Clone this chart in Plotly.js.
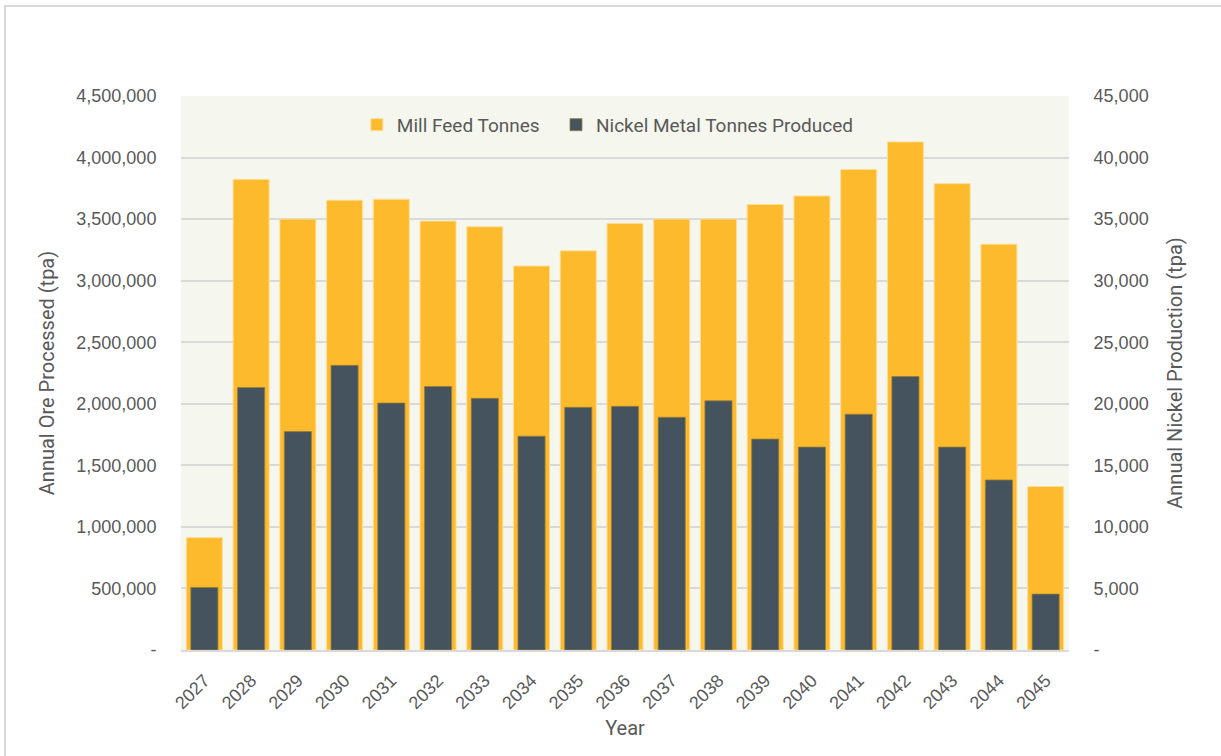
<!DOCTYPE html>
<html>
<head>
<meta charset="utf-8">
<script src="https://cdn.plot.ly/plotly-3.0.1.min.js"></script>
<style>
    html, body { margin: 0; padding: 0; background: #fff; overflow: hidden; }
    #chart { width: 1221px; height: 756px; }
    #frame {
        position: absolute; left: 4px; top: 5px; width: 1400px; height: 900px;
        border-left: 2px solid #d9d9d9; border-top: 2px solid #d9d9d9;
        pointer-events: none;
    }
</style>
</head>
<body>
<div id="chart"></div>
<div id="frame"></div>
<script>
// Data
var years = ['2027', '2028', '2029', '2030', '2031', '2032', '2033', '2034', '2035', '2036',
    '2037', '2038', '2039', '2040', '2041', '2042', '2043', '2044', '2045'];

var millFeed = [913000, 3823000, 3500000, 3653000, 3661000, 3484000, 3438000, 3119000, 3242000, 3465000,
    3500000, 3500000, 3619000, 3688000, 3903000, 4127000, 3788000, 3296000, 1328000];

var nickelMetal = [5080, 21320, 17740, 23120, 20060, 21400, 20440, 17370, 19710, 19790,
    18900, 20240, 17130, 16480, 19150, 22210, 16480, 13810, 4540];

var leftTicks = [0, 500000, 1000000, 1500000, 2000000, 2500000, 3000000, 3500000, 4000000, 4500000];
var leftTickText = ['-', '500,000', '1,000,000', '1,500,000', '2,000,000', '2,500,000',
    '3,000,000', '3,500,000', '4,000,000', '4,500,000'];
var rightTicks = [0, 5000, 10000, 15000, 20000, 25000, 30000, 35000, 40000, 45000];
var rightTickText = ['-', '5,000', '10,000', '15,000', '20,000', '25,000',
    '30,000', '35,000', '40,000', '45,000'];

var textGrey = '#595959';
var tickFont = {family: 'Liberation Sans, Arial, sans-serif', size: 18, color: textGrey};
var titleFont = {family: 'Roboto, sans-serif', size: 20, color: textGrey};
var legendFont = {family: 'Roboto, sans-serif', size: 19, color: textGrey};

var data = [
    {
        x: years, y: millFeed, type: 'bar', name: 'Mill Feed Tonnes',
        yaxis: 'y', width: 0.77, offset: -0.385, legend: 'legend',
        marker: {color: '#FDBA2C', line: {color: 'rgba(255,222,150,0.9)', width: 1}},
        hoverinfo: 'x+y'
    },
    {
        x: years, y: nickelMetal, type: 'bar', name: 'Nickel Metal Tonnes Produced',
        yaxis: 'y2', width: 0.58, offset: -0.29, legend: 'legend2',
        marker: {color: '#44535E', line: {color: 'rgba(150,125,60,0.8)', width: 1}},
        hoverinfo: 'x+y'
    }
];

var layout = {
    width: 1221,
    height: 756,
    margin: {l: 181, r: 152, t: 96, b: 106},
    paper_bgcolor: '#ffffff',
    plot_bgcolor: '#F5F6EE',
    barmode: 'overlay',
    showlegend: true,
    legend: {
        orientation: 'h',
        x: 0.198, xanchor: 'left',
        y: 0.948, yanchor: 'middle',
        bgcolor: 'rgba(0,0,0,0)',
        font: legendFont
    },
    legend2: {
        orientation: 'h',
        x: 0.4223, xanchor: 'left',
        y: 0.948, yanchor: 'middle',
        bgcolor: 'rgba(0,0,0,0)',
        font: legendFont
    },
    xaxis: {
        type: 'category',
        range: [-0.5, 18.5],
        tickangle: -45,
        tickfont: tickFont,
        ticks: 'outside', ticklen: 11, tickcolor: 'rgba(0,0,0,0)',
        showline: true, linecolor: '#d9d9d9', linewidth: 2,
        showgrid: false,
        title: {text: 'Year', font: titleFont, standoff: 9}
    },
    yaxis: {
        range: [0, 4500000],
        tickmode: 'array', tickvals: leftTicks, ticktext: leftTickText,
        tickfont: tickFont,
        ticks: 'outside', ticklen: 20, tickcolor: 'rgba(0,0,0,0)',
        showgrid: true, gridcolor: '#d9d9d9', gridwidth: 2,
        zeroline: false,
        title: {text: 'Annual Ore Processed (tpa)', font: titleFont, standoff: 16}
    },
    yaxis2: {
        range: [0, 45000],
        overlaying: 'y', side: 'right',
        tickmode: 'array', tickvals: rightTicks, ticktext: rightTickText,
        tickfont: tickFont,
        ticks: 'outside', ticklen: 20, tickcolor: 'rgba(0,0,0,0)',
        showgrid: false, zeroline: false,
        title: {text: 'Annual Nickel Production (tpa)', font: titleFont, standoff: 20}
    }
};

Plotly.newPlot('chart', data, layout, {displayModeBar: false, staticPlot: true});
</script>
</body>
</html>
